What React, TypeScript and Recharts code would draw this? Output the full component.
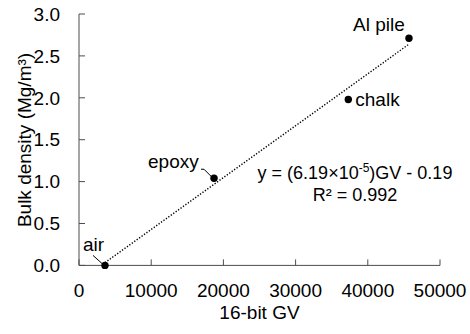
import React from 'react';
import { ScatterChart, Scatter, XAxis, YAxis, ReferenceLine, Label, Customized } from 'recharts';

const materials = ['air', 'epoxy', 'chalk', 'Al pile'];
const grayValues = [3600, 18700, 37300, 45700];
const bulkDensity = [0, 1.04, 1.98, 2.71];

const xTicks = [0, 10000, 20000, 30000, 40000, 50000];
const yTicks = [0, 0.5, 1, 1.5, 2, 2.5, 3];

// linear fit printed on the plot
const fitSlope = 6.19e-5;
const fitIntercept = -0.19;
const fitR2 = 0.992;

const points = materials.map((name, i) => ({ name, gv: grayValues[i], density: bulkDensity[i] }));

const gvMin = Math.min(...grayValues);
const gvMax = Math.max(...grayValues);
const fitLine = [
  { x: gvMin, y: fitSlope * gvMin + fitIntercept },
  { x: gvMax, y: fitSlope * gvMax + fitIntercept },
];

const FONT = '"Liberation Sans", Arial, sans-serif';
const AXIS = '#4d4d4d';

// where each point's name sits relative to its dot (px), plus optional leader line
const labelOffsets: Record<string, { dx: number; dy: number; leader?: number[][] }> = {
  air: { dx: -22, dy: -14, leader: [[-12, -10], [-2, -1]] },
  epoxy: { dx: -66, dy: -10, leader: [[-13, -9], [-10, -9], [-2, -1]] },
  chalk: { dx: 7, dy: 7 },
  'Al pile': { dx: -56, dy: -7 },
};

const PointMark = (props: any) => {
  const { cx, cy, payload } = props;
  const off = labelOffsets[payload.name];
  return (
    <g>
      <circle cx={cx} cy={cy} r={3.7} fill="#000" />
      {off && off.leader && (
        <polyline
          points={off.leader.map(([x, y]) => `${cx + x},${cy + y}`).join(' ')}
          fill="none"
          stroke="#000"
          strokeWidth={1}
        />
      )}
      {off && (
        <text x={cx + off.dx} y={cy + off.dy} fontSize={19} fontFamily={FONT} fill="#000">
          {payload.name}
        </text>
      )}
    </g>
  );
};

const FitText = () => (
  <g fontFamily={FONT} fontSize={18} fill="#000">
    <text x={355} y={179} textAnchor="middle">
      y = ({(fitSlope * 1e5).toFixed(2)}×10
      <tspan dy={-7} fontSize={12}>-5</tspan>
      <tspan dy={7}>)GV - {Math.abs(fitIntercept).toFixed(2)}</tspan>
    </text>
    <text x={355} y={201} textAnchor="middle">
      R² = {fitR2}
    </text>
  </g>
);

const YTitle = () => {
  const cx = 31;
  const cy = 140;
  return (
    <text
      x={cx}
      y={cy}
      transform={`rotate(-90, ${cx}, ${cy})`}
      textAnchor="middle"
      fontSize={19}
      fontFamily={FONT}
      fill="#000"
    >
      Bulk density (Mg/m³)
    </text>
  );
};

export default function App() {
  return (
    <div style={{ position: 'absolute', left: 0, top: 0, background: '#fff' }}>
      <ScatterChart width={470} height={334} margin={{ top: 14, right: 30, bottom: 0, left: 0 }}>
        <XAxis
          type="number"
          dataKey="gv"
          domain={[0, 50000]}
          ticks={xTicks}
          height={68.6}
          tickSize={-6}
          tickMargin={24}
          stroke={AXIS}
          tick={{ fill: '#000', fontSize: 19, fontFamily: FONT }}
          tickLine={{ stroke: AXIS }}
          axisLine={{ stroke: AXIS }}
        >
          <Label value="16-bit GV" position="insideBottom" offset={15} fontSize={19} fontFamily={FONT} fill="#000" />
        </XAxis>
        <YAxis
          type="number"
          dataKey="density"
          domain={[0, 3]}
          ticks={yTicks}
          width={79}
          tickSize={-6}
          tickMargin={25}
          stroke={AXIS}
          tickFormatter={(v: number) => v.toFixed(1)}
          tick={{ fill: '#000', fontSize: 19, fontFamily: FONT }}
          tickLine={{ stroke: AXIS }}
          axisLine={{ stroke: AXIS }}
        >
          <Label content={YTitle} />
        </YAxis>
        <ReferenceLine
          segment={fitLine}
          stroke="#000"
          strokeWidth={1.3}
          strokeDasharray="1.3 1.7"
          ifOverflow="extendDomain"
        />
        <Scatter data={points} shape={PointMark} isAnimationActive={false} />
        <Customized component={FitText} />
      </ScatterChart>
    </div>
  );
}
